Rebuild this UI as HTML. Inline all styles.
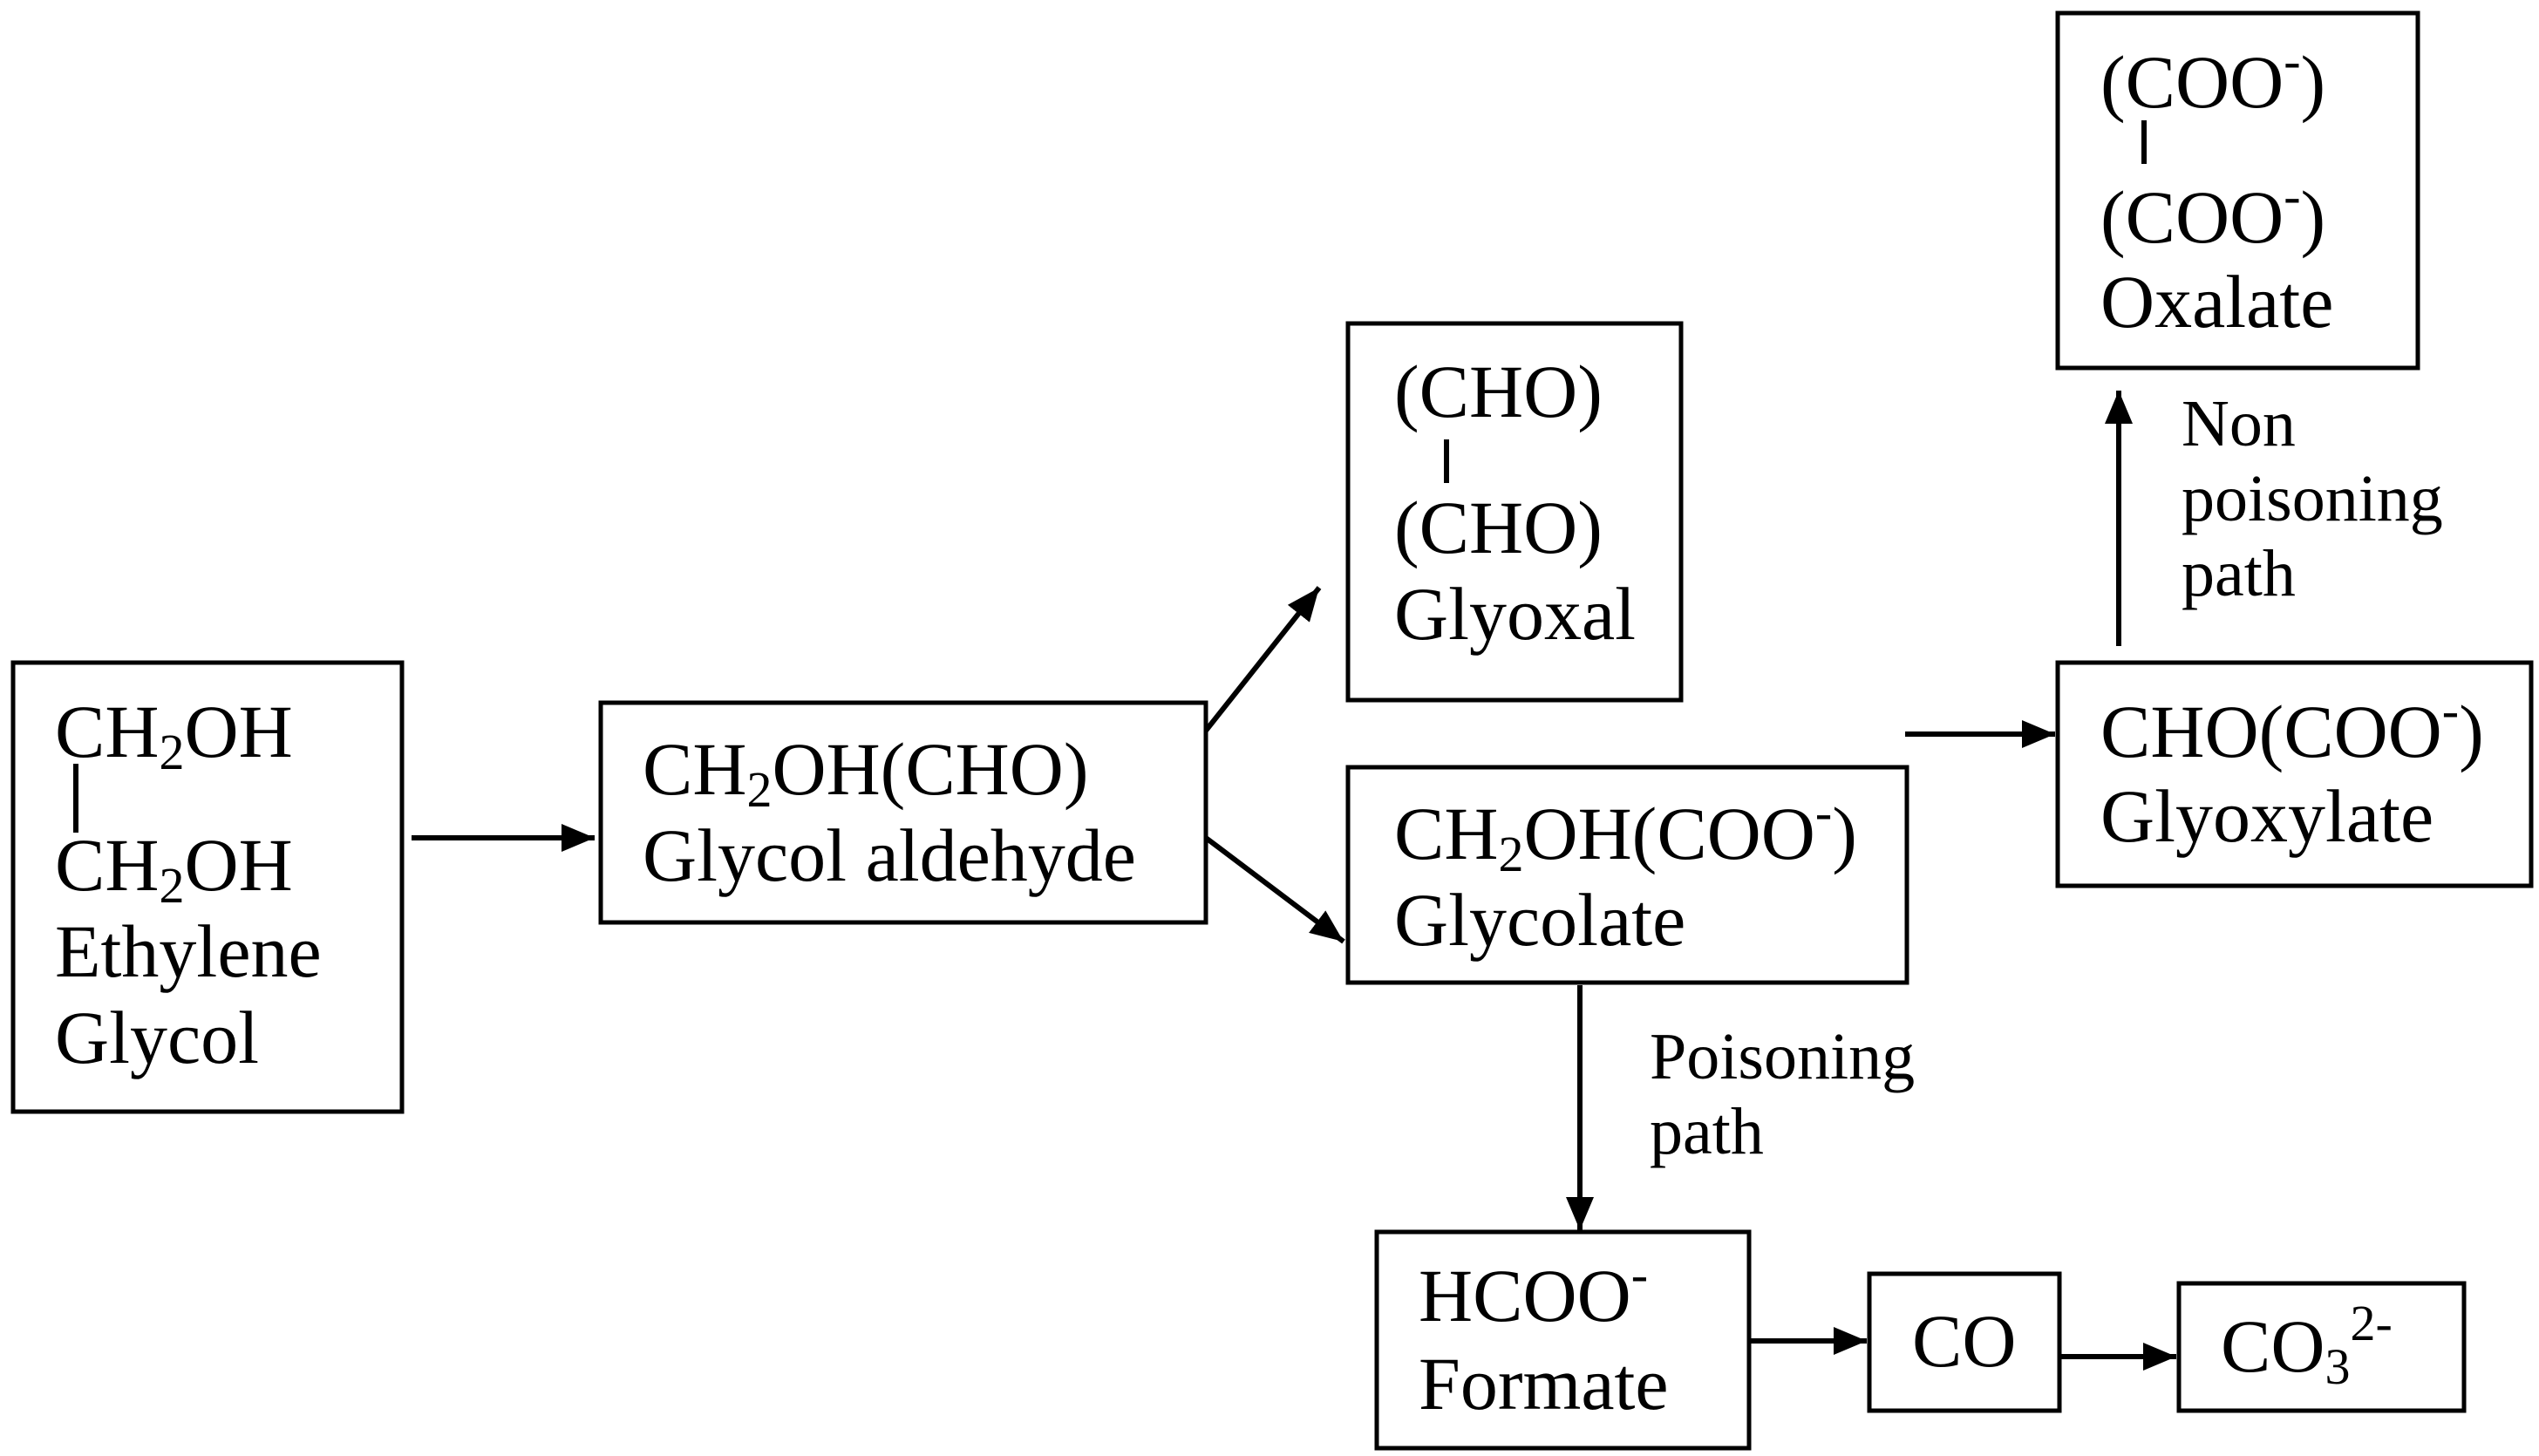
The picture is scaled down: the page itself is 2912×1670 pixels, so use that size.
<!DOCTYPE html>
<html><head><meta charset="utf-8"><style>
html,body{margin:0;padding:0;background:#fff;}
svg{display:block;}
text{font-family:"Liberation Serif",serif;fill:#000;}
.m{font-size:86px;}
.s{font-size:76px;}
</style></head><body>
<svg width="2912" height="1670" viewBox="0 0 2912 1670" xmlns="http://www.w3.org/2000/svg">
<defs>
<marker id="ah" markerWidth="38" markerHeight="32" refX="38" refY="16" orient="auto" markerUnits="userSpaceOnUse">
<path d="M0,0 L38,16 L0,32 Z" fill="#000"/>
</marker>
</defs>
<g fill="none" stroke="#000" stroke-width="5">
<rect x="15" y="760" width="446" height="515"/>
<rect x="689" y="806" width="694" height="252"/>
<rect x="1546" y="371" width="382" height="432"/>
<rect x="1546" y="880" width="641" height="247"/>
<rect x="2360" y="760" width="543" height="256"/>
<rect x="2360" y="15" width="413" height="407"/>
<rect x="1579" y="1413" width="427" height="248"/>
<rect x="2144" y="1461" width="218" height="157"/>
<rect x="2499" y="1472" width="327" height="146"/>
</g>
<g stroke="#000" stroke-width="6" fill="none" marker-end="url(#ah)">
<line x1="472" y1="961" x2="682" y2="961"/>
<line x1="1383" y1="838" x2="1513" y2="674"/>
<line x1="1383" y1="961" x2="1541" y2="1080"/>
<line x1="2185" y1="842" x2="2357" y2="842"/>
<line x1="2430" y1="741" x2="2430" y2="448"/>
<line x1="1812" y1="1130" x2="1812" y2="1411"/>
<line x1="2006" y1="1538" x2="2141" y2="1538"/>
<line x1="2362" y1="1556" x2="2496" y2="1556"/>
</g>
<g stroke="#000" stroke-width="6">
<line x1="87" y1="876" x2="87" y2="955"/>
<line x1="1659" y1="504" x2="1659" y2="554"/>
<line x1="2459" y1="138" x2="2459" y2="188"/>
</g>
<text class="m" x="63" y="868">CH<tspan font-size="58" dy="14">2</tspan><tspan dy="-14">OH</tspan></text>
<text class="m" x="63" y="1021">CH<tspan font-size="58" dy="14">2</tspan><tspan dy="-14">OH</tspan></text>
<text class="m" x="63" y="1120">Ethylene</text>
<text class="m" x="63" y="1219">Glycol</text>
<text class="m" x="737" y="911">CH<tspan font-size="58" dy="14">2</tspan><tspan dy="-14">OH(CHO)</tspan></text>
<text class="m" x="737" y="1010">Glycol aldehyde</text>
<text class="m" x="1599" y="478">(CHO)</text>
<text class="m" x="1599" y="634">(CHO)</text>
<text class="m" x="1599" y="733">Glyoxal</text>
<text class="m" x="1599" y="985">CH<tspan font-size="58" dy="14">2</tspan><tspan dy="-14">OH(COO</tspan><tspan font-size="58" dy="-34">-</tspan><tspan dy="34">)</tspan></text>
<text class="m" x="1599" y="1084">Glycolate</text>
<text class="m" x="2409" y="868">CHO(COO<tspan font-size="58" dy="-34">-</tspan><tspan dy="34">)</tspan></text>
<text class="m" x="2409" y="965">Glyoxylate</text>
<text class="m" x="2409" y="123">(COO<tspan font-size="58" dy="-34">-</tspan><tspan dy="34">)</tspan></text>
<text class="m" x="2409" y="278">(COO<tspan font-size="58" dy="-34">-</tspan><tspan dy="34">)</tspan></text>
<text class="m" x="2409" y="375">Oxalate</text>
<text class="m" x="1627" y="1515">HCOO<tspan font-size="58" dy="-34">-</tspan></text>
<text class="m" x="1627" y="1616">Formate</text>
<text class="m" x="2193" y="1567">CO</text>
<text class="m" x="2547" y="1573">CO<tspan font-size="58" dy="14">3</tspan><tspan font-size="58" dy="-50">2-</tspan></text>
<text class="s" x="1892" y="1237">Poisoning</text>
<text class="s" x="1892" y="1323">path</text>
<text class="s" x="2502" y="511">Non</text>
<text class="s" x="2502" y="597">poisoning</text>
<text class="s" x="2502" y="683">path</text>
</svg>
</body></html>
